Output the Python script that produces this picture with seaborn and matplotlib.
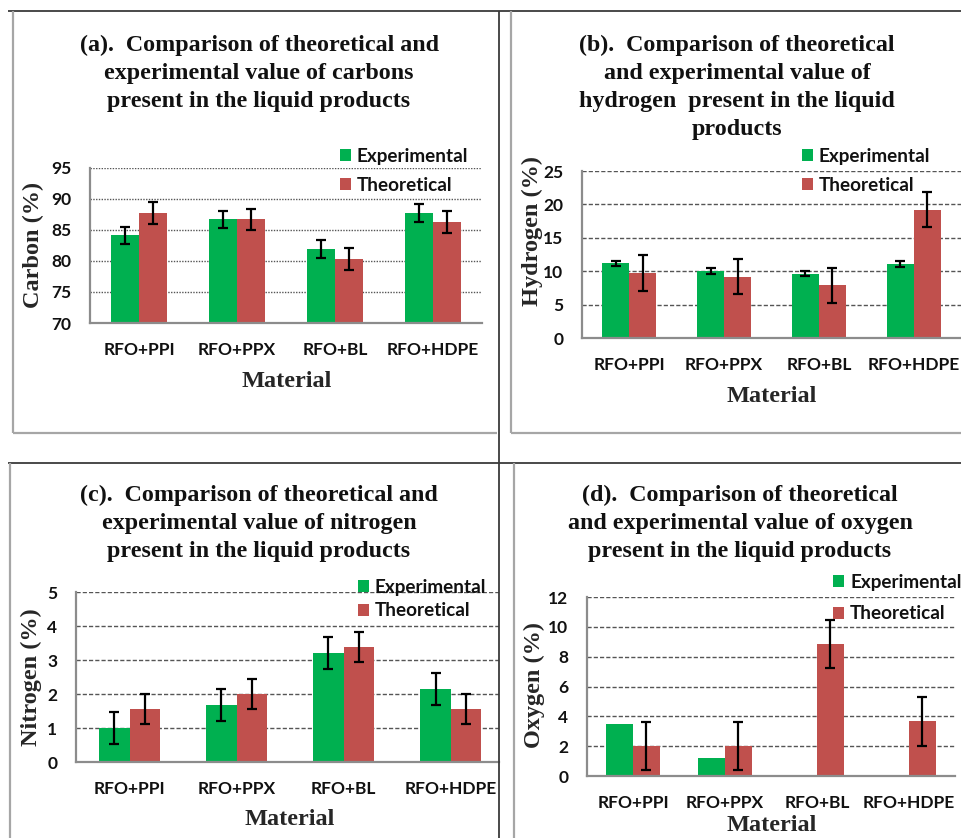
import matplotlib
matplotlib.use("Agg")
import matplotlib.pyplot as plt
import pandas as pd
import seaborn as sns
from matplotlib.lines import Line2D

# ---- data -------------------------------------------------------------
materials = ["RFO+PPI", "RFO+PPX", "RFO+BL", "RFO+HDPE"]
series = ["Experimental", "Theoretical"]

carbon_exp = [84.1, 86.7, 81.9, 87.7]
carbon_exp_err = [1.4, 1.35, 1.4, 1.4]
carbon_theo = [87.7, 86.7, 80.3, 86.3]
carbon_theo_err = [1.75, 1.65, 1.75, 1.75]

hydrogen_exp = [11.2, 10.1, 9.6, 11.1]
hydrogen_exp_err = [0.4, 0.45, 0.38, 0.4]
hydrogen_theo = [9.8, 9.2, 7.9, 19.2]
hydrogen_theo_err = [2.7, 2.6, 2.6, 2.6]

nitrogen_exp = [1.0, 1.67, 3.2, 2.16]
nitrogen_exp_err = [0.47, 0.47, 0.47, 0.47]
nitrogen_theo = [1.55, 2.0, 3.38, 1.56]
nitrogen_theo_err = [0.44, 0.44, 0.44, 0.44]

oxygen_exp = [3.5, 1.23, 0.0, 0.0]
oxygen_exp_err = [None, None, None, None]
oxygen_theo = [2.0, 2.0, 8.85, 3.66]
oxygen_theo_err = [1.63, 1.63, 1.61, 1.62]

titles = {
    "a": ["(a).  Comparison of theoretical and",
          "experimental value of carbons",
          "present in the liquid products"],
    "b": ["(b).  Comparison of theoretical",
          "and experimental value of",
          "hydrogen  present in the liquid",
          "products"],
    "c": ["(c).  Comparison of theoretical and",
          "experimental value of nitrogen",
          "present in the liquid products"],
    "d": ["(d).  Comparison of theoretical",
          "and experimental value of oxygen",
          "present in the liquid products"],
}

# ---- style ------------------------------------------------------------
sns.set_theme(style="white")
SERIF = ["Liberation Serif", "DejaVu Serif"]
SANS = ["Lato", "DejaVu Sans"]
plt.rcParams["font.family"] = SANS

GREEN = "#00B050"
RED = "#C0504D"
SPINE = "#8c8c8c"
GRID = "#555555"

W, H = 961, 838
fig = plt.figure(figsize=(W / 100, H / 100), dpi=100)
fig.patch.set_facecolor("white")


def fx(x):
    return x / W


def fy(y):
    return 1 - y / H


def rect(l, t, r, b):
    return [l / W, 1 - b / H, (r - l) / W, (b - t) / H]


def to_axes(ax, x, y):
    disp = fig.transFigure.transform((fx(x), fy(y)))
    return ax.transAxes.inverted().transform(disp)


def panel(cfg):
    ax = fig.add_axes(rect(*cfg["box"]))
    df = pd.DataFrame({
        "Material": materials * 2,
        "Series": [series[0]] * len(materials) + [series[1]] * len(materials),
        "Value": list(cfg["exp"]) + list(cfg["theo"]),
    })
    sns.barplot(data=df, x="Material", y="Value", hue="Series",
                palette=[GREEN, RED], saturation=1, width=cfg["width"],
                errorbar=None, linewidth=0, ax=ax)

    # error bars centred on each drawn bar
    for container, errs in zip(ax.containers, [cfg["exp_err"], cfg["theo_err"]]):
        for bar, e in zip(container, errs):
            if e is None:
                continue
            ax.errorbar(bar.get_x() + bar.get_width() / 2, bar.get_height(),
                        yerr=e, fmt="none", ecolor="black", elinewidth=1.6,
                        capsize=3.5, capthick=1.6, zorder=5)

    ax.set_xlim(-0.5, cfg["xmax"])
    ax.set_ylim(*cfg["ylim"])
    ax.set_yticks(cfg["yticks"])
    ax.yaxis.grid(True, linestyle=cfg["grid"], color=GRID, linewidth=1.0)
    ax.xaxis.grid(False)
    ax.set_axisbelow(True)
    for s in ["top", "right"]:
        ax.spines[s].set_visible(False)
    for s in ["left", "bottom"]:
        ax.spines[s].set_color(SPINE)
        ax.spines[s].set_linewidth(1.6)

    ax.tick_params(axis="y", direction="out", length=5, width=1.2, color=SPINE,
                   pad=8.5, labelsize=12.5)
    ax.tick_params(axis="x", length=0, pad=13.5, labelsize=12.5)
    for lab in ax.get_xticklabels() + ax.get_yticklabels():
        lab.set_fontweight("bold")
        lab.set_color("#111111")

    ax.set_ylabel(cfg["ylabel"], family=SERIF, fontweight="bold", fontsize=17.5,
                  va="center")
    ax.yaxis.set_label_coords(*to_axes(ax, *cfg["ylabel_xy"]))
    ax.set_xlabel("Material", family=SERIF, fontweight="bold", fontsize=17.5,
                  va="center")
    ax.xaxis.set_label_coords(*to_axes(ax, *cfg["xlabel_xy"]))

    lx, ly = cfg["legend_xy"]
    leg = ax.legend(loc="upper left", bbox_to_anchor=(fx(lx), fy(ly)),
                    bbox_transform=fig.transFigure, frameon=False, borderpad=0,
                    borderaxespad=0, handlelength=0.6, handleheight=0.6,
                    handletextpad=0.3, labelspacing=cfg["legend_sp"],
                    prop={"family": SANS, "weight": "bold", "size": 13.6})
    for t in leg.get_texts():
        t.set_color("#111111")

    tx = cfg["title_x"]
    for i, line in enumerate(cfg["title"]):
        fig.text(fx(tx), fy(cfg["title_y0"] + 28 * i), line, ha="center",
                 va="center", family=SERIF, fontweight="bold", fontsize=17.3,
                 color="#111111")
    return ax


panels = [
    dict(box=(90, 167.7, 482, 323), exp=carbon_exp, exp_err=carbon_exp_err,
         theo=carbon_theo, theo_err=carbon_theo_err, width=0.58, xmax=3.5,
         ylim=(70, 95), yticks=[70, 75, 80, 85, 90, 95], grid=(0, (1, 1)),
         ylabel="Carbon (%)", ylabel_xy=(33, 245), xlabel_xy=(287, 381),
         legend_xy=(340, 148), legend_sp=0.62, title=titles["a"],
         title_x=259, title_y0=45),
    dict(box=(582, 171, 961, 338), exp=hydrogen_exp, exp_err=hydrogen_exp_err,
         theo=hydrogen_theo, theo_err=hydrogen_theo_err, width=0.57, xmax=3.5,
         ylim=(0, 25), yticks=[0, 5, 10, 15, 20, 25], grid=(0, (3, 1.5)),
         ylabel="Hydrogen (%)", ylabel_xy=(532, 231), xlabel_xy=(772, 396),
         legend_xy=(802, 148), legend_sp=0.62, title=titles["b"],
         title_x=737, title_y0=45),
    dict(box=(76, 592, 499, 762), exp=nitrogen_exp, exp_err=nitrogen_exp_err,
         theo=nitrogen_theo, theo_err=nitrogen_theo_err, width=0.57, xmax=3.45,
         ylim=(0, 5), yticks=[0, 1, 2, 3, 4, 5], grid=(0, (3, 1.5)),
         ylabel="Nitrogen (%)", ylabel_xy=(31, 677), xlabel_xy=(290, 819),
         legend_xy=(358, 579), legend_sp=0.34, title=titles["c"],
         title_x=259, title_y0=495),
    dict(box=(587, 597, 955, 776), exp=oxygen_exp, exp_err=oxygen_exp_err,
         theo=oxygen_theo, theo_err=oxygen_theo_err, width=0.58, xmax=3.5,
         ylim=(0, 12), yticks=[0, 2, 4, 6, 8, 10, 12], grid=(0, (3, 1.5)),
         ylabel="Oxygen (%)", ylabel_xy=(534, 685), xlabel_xy=(772, 825),
         legend_xy=(833, 574), legend_sp=0.76, title=titles["d"],
         title_x=740, title_y0=495),
]

for cfg in panels:
    panel(cfg)

# ---- cell rules and chart-area borders --------------------------------
def fig_line(xs, ys, color, lw):
    fig.add_artist(Line2D([fx(x) for x in xs], [fy(y) for y in ys],
                          transform=fig.transFigure, color=color, lw=lw,
                          solid_capstyle="butt"))


DARK = "#3a3a3a"
BOX = "#a6a6a6"
fig_line([8, 961], [11, 11], DARK, 1.3)
fig_line([8, 961], [463, 463], DARK, 1.3)
fig_line([499, 499], [11, 838], DARK, 1.3)

fig_line([13, 13], [11, 433], BOX, 1.6)
fig_line([13, 497], [433, 433], BOX, 1.6)
fig_line([511, 511], [11, 433], BOX, 1.6)
fig_line([511, 961], [433, 433], BOX, 1.6)
fig_line([10, 10], [463, 838], BOX, 1.6)
fig_line([514, 514], [463, 838], BOX, 1.6)

fig.savefig("out.png", dpi=100, facecolor="white")
